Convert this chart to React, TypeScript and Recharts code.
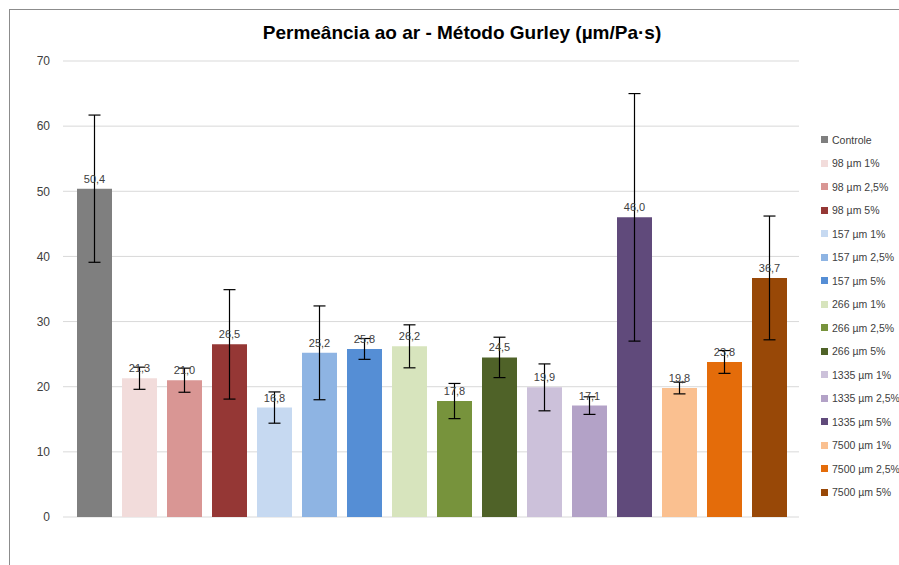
import { Bar, BarChart, CartesianGrid, ErrorBar, LabelList, XAxis, YAxis } from "recharts";

const seriesNames = [
  "Controle",
  "98 µm 1%",
  "98 µm 2,5%",
  "98 µm 5%",
  "157 µm 1%",
  "157 µm 2,5%",
  "157 µm 5%",
  "266 µm 1%",
  "266 µm 2,5%",
  "266 µm 5%",
  "1335 µm 1%",
  "1335 µm 2,5%",
  "1335 µm 5%",
  "7500 µm 1%",
  "7500 µm 2,5%",
  "7500 µm 5%",
];

const values = [50.4, 21.3, 21.0, 26.5, 16.8, 25.2, 25.8, 26.2, 17.8, 24.5, 19.9, 17.1, 46.0, 19.8, 23.8, 36.7];
const errors = [11.3, 1.7, 1.85, 8.4, 2.4, 7.2, 1.6, 3.3, 2.7, 3.1, 3.6, 1.35, 19.0, 0.9, 1.75, 9.5];

const colors = [
  "#7f7f7f",
  "#f2dcdb",
  "#d99694",
  "#953735",
  "#c6d9f1",
  "#8eb4e3",
  "#558ed5",
  "#d7e4bd",
  "#77933c",
  "#4f6228",
  "#ccc1da",
  "#b3a2c7",
  "#604a7b",
  "#fac090",
  "#e46c0a",
  "#984807",
];

const yTicks = [0, 10, 20, 30, 40, 50, 60, 70];

const row: Record<string, number | string> = { name: "" };
values.forEach((v, i) => {
  row[`s${i}`] = v;
  row[`e${i}`] = errors[i];
});
const chartData = [row];

const font = "'Liberation Sans', Arial, sans-serif";

function ValueLabel(props: any) {
  const { x, y, width, value } = props;
  return (
    <text
      x={Number(x) + Number(width) / 2}
      y={Number(y) - 6}
      textAnchor="middle"
      fill="#404040"
      fontSize={11}
      fontFamily={font}
    >
      {Number(value).toFixed(1).replace(".", ",")}
    </text>
  );
}

// legend drawn next to the chart so it doesn't shrink the plot area
function LegendBox() {
  return (
    <div
      style={{
        position: "absolute",
        left: 821,
        top: 128,
        fontFamily: font,
        fontSize: 10.5,
        color: "#404040",
      }}
    >
      {seriesNames.map((name, i) => (
        <div key={name} style={{ height: 23.5, display: "flex", alignItems: "center", whiteSpace: "nowrap" }}>
          <span style={{ width: 7, height: 7, background: colors[i], marginRight: 4, display: "inline-block" }} />
          {name}
        </div>
      ))}
    </div>
  );
}

export default function App() {
  return (
    <div style={{ position: "absolute", left: 0, top: 0, width: 899, height: 565, background: "#fff", overflow: "hidden" }}>
      <div
        style={{
          position: "absolute",
          left: 9,
          top: 9,
          width: 899,
          height: 565,
          borderTop: "1.5px solid #8c8c8c",
          borderLeft: "1.5px solid #8c8c8c",
        }}
      />
      <div
        style={{
          position: "absolute",
          top: 22,
          left: 212,
          width: 500,
          textAlign: "center",
          fontFamily: font,
          fontWeight: "bold",
          fontSize: 19,
          color: "#000",
        }}
      >
        Permeância ao ar - Método Gurley (µm/Pa·s)
      </div>
      <BarChart
        width={899}
        height={565}
        data={chartData}
        margin={{ top: 61, right: 100, bottom: 48, left: 0 }}
        barCategoryGap={14}
        barGap={10}
        style={{ position: "absolute", left: 0, top: 0 }}
      >
        <CartesianGrid vertical={false} stroke="#d9d9d9" />
        <XAxis dataKey="name" tick={false} height={0} axisLine={{ stroke: "#d9d9d9" }} tickLine={false} />
        <YAxis
          domain={[0, 70]}
          ticks={yTicks}
          width={63}
          axisLine={false}
          tickLine={false}
          tickMargin={7}
          tick={{ fontSize: 12, fill: "#404040", fontFamily: font }}
        />
        {seriesNames.map((name, i) => (
          <Bar key={name} dataKey={`s${i}`} name={name} fill={colors[i]} isAnimationActive={false}>
            <LabelList dataKey={`s${i}`} content={ValueLabel} />
            <ErrorBar dataKey={`e${i}`} width={6} stroke="#000" strokeWidth={1.2} />
          </Bar>
        ))}
      </BarChart>
      <LegendBox />
    </div>
  );
}
